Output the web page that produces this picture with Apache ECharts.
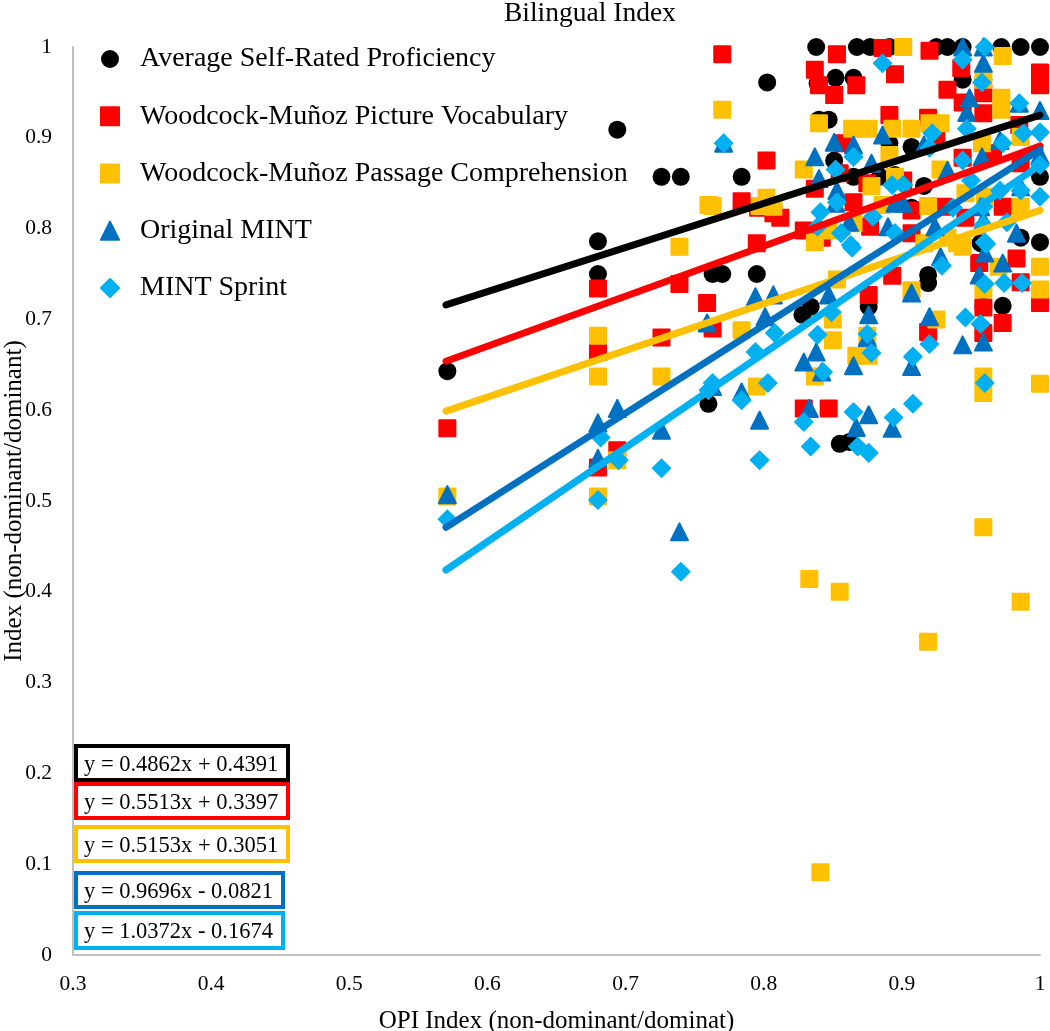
<!DOCTYPE html>
<html>
<head>
<meta charset="utf-8">
<title>Bilingual Index</title>
<script src="https://cdn.jsdelivr.net/npm/echarts@6/dist/echarts.min.js"></script>
<style>
	html, body { margin: 0; padding: 0; background: #fff; }
	#plot { width: 1050px; height: 1031px; }
</style>
</head>
<body>
<div id="plot"></div>
<script>
// values as [OPI index, index]
const selfRated = [
	[.8025,.961],[.694,.909],[.726,.857],[.74,.857],[.784,.857],[.68,.786],[.68,.75],[.763,.75],[.77,.75],[.795,.75],
	[.571,.643],[.76,.607],[.838,1],[.8675,1],[.877,1],[.891,1],[.925,1],[.933,1],[.944,1],[.972,1],[.986,1],[1,1],
	[.839,.96],[.852,.966],[.865,.966],[.84,.92],[.847,.92],[.944,.964],[.959,.964],[.851,.875],[.907,.89],[.891,.894],
	[.895,.859],[.865,.857],[.884,.857],[.916,.847],[1,.857],[.907,.823],[.957,.784],[1,.785],[.986,.79],[.919,.749],
	[.919,.74],[.828,.705],[.834,.714],[.876,.714],[.959,.714],[.973,.715],[.855,.563],[.862,.565]
];
const pictureVocabulary = [
	[.77,.992],[.802,.875],[.784,.83],[.796,.823],[.807,.817],[.795,.784],[.739,.739],[.68,.734],[.759,.718],[.763,.69],
	[.726,.68],[.68,.664],[.571,.58],[.694,.556],[.68,.537],[.853,.992],[.886,.999],[.92,.996],[1,.972],[1,.958],
	[.837,.975],[.84,.958],[.851,.947],[.867,.958],[.895,.97],[.933,.953],[.943,.977],[.959,.949],[.944,.939],[.959,.927],
	[.891,.925],[.919,.922],[.925,.9],[.857,.894],[.985,.914],[.944,.878],[.966,.883],[.986,.872],[.901,.853],[.837,.844],
	[.875,.85],[.865,.829],[.855,.861],[.973,.824],[.907,.82],[.93,.824],[.877,.802],[.946,.812],[.829,.798],[.907,.795],
	[.812,.812],[.842,.79],[.893,.748],[.876,.727],[.956,.762],[.983,.767],[.986,.741],[.959,.713],[.973,.696],[1,.718],
	[.919,.686],[.959,.685],[.829,.602],[.847,.602]
];
const passageComprehension = [
	[.77,.931],[.76,.826],[.763,.825],[.802,.834],[.797,.825],[.807,.824],[.739,.78],[.784,.688],[.68,.682],[.68,.637],
	[.726,.637],[.795,.626],[.694,.545],[.571,.505],[.68,.505],[.901,1],[.973,.99],[.959,.964],[.972,.944],[.972,.931],
	[.84,.916],[.864,.91],[.876,.91],[.893,.91],[.907,.91],[.92,.916],[.928,.916],[.958,.894],[.986,.901],[.891,.881],
	[.829,.865],[.928,.865],[.895,.857],[.878,.847],[.946,.839],[.886,.826],[.919,.825],[.986,.824],[.865,.806],[.837,.785],
	[.847,.798],[.916,.784],[.94,.784],[.96,.835],[.933,.79],[.944,.78],[1,.758],[1,.733],[.853,.744],[.907,.732],
	[.959,.733],[.97,.758],[.85,.7],[.85,.677],[.925,.7],[.875,.682],[.867,.66],[.876,.66],[.837,.637],[.959,.637],
	[.959,.619],[1,.629],[.959,.471],[.833,.414],[.855,.4],[.919,.345],[.986,.389],[.841,.091]
];
const originalMint = [
	[.794,.725],[.807,.727],[.759,.696],[.801,.703],[.694,.602],[.68,.586],[.726,.578],[.763,.626],[.784,.62],[.797,.589],
	[.68,.547],[.571,.507],[.739,.466],[.771,.894],[.944,1],[.959,1],[.959,.982],[.949,.944],[.947,.928],[.985,.938],
	[1,.93],[.886,.903],[.851,.895],[.865,.892],[.837,.879],[.916,.892],[.958,.879],[.933,.864],[.878,.872],[.84,.855],
	[.853,.842],[.971,.897],[1,.881],[.901,.828],[.895,.828],[.924,.802],[.957,.824],[.862,.807],[.89,.802],[.986,.846],
	[.959,.809],[.983,.795],[.852,.828],[.847,.727],[.96,.773],[.973,.762],[.956,.749],[.907,.729],[.876,.705],[.92,.703],
	[.959,.675],[.944,.672],[.838,.664],[.829,.653],[.865,.649],[.907,.648],[.842,.642],[.833,.602],[.876,.595],[.867,.581],
	[.893,.58],[.928,.769],[.875,.68]
];
const mintSprint = [
	[.771,.894],[.571,.48],[.682,.57],[.68,.501],[.695,.545],[.726,.536],[.763,.63],[.76,.622],[.784,.611],[.803,.63],
	[.797,.545],[.74,.422],[.794,.664],[.808,.685],[.886,.982],[.944,.986],[.96,1],[.958,.961],[.985,.938],[1,.906],
	[.988,.905],[.947,.91],[.922,.905],[.92,.889],[.973,.894],[.865,.879],[.852,.865],[.944,.875],[1,.87],[.893,.848],
	[.901,.848],[.95,.853],[.971,.842],[.986,.842],[1,.835],[.853,.829],[.841,.818],[.959,.824],[.937,.823],[.879,.813],
	[.959,.804],[.895,.795],[.976,.807],[.856,.795],[.839,.802],[.863,.782],[.96,.785],[.864,.779],[.961,.783],[.929,.759],
	[.96,.739],[.974,.74],[.987,.74],[.849,.708],[.839,.683],[.875,.684],[.878,.663],[.908,.659],[.92,.673],[.946,.702],
	[.957,.695],[.843,.642],[.96,.63],[.908,.607],[.829,.587],[.865,.598],[.894,.592],[.834,.56],[.868,.56],[.876,.553]
];

// trend line end points
const selfRatedTrend = [[.57,.716],[1,.925]];
const vocabularyTrend = [[.57,.654],[1,.891]];
const passageTrend = [[.57,.599],[1,.82]];
const originalTrend = [[.57,.471],[1,.887]];
const sprintTrend = [[.57,.424],[1,.87]];

const seriesNames = [
	'Average Self-Rated Proficiency',
	'Woodcock-Muñoz Picture Vocabulary',
	'Woodcock-Muñoz Passage Comprehension',
	'Original MINT',
	'MINT Sprint'
];
const equations = [
	'y = 0.4862x + 0.4391',
	'y = 0.5513x + 0.3397',
	'y = 0.5153x + 0.3051',
	'y = 0.9696x - 0.0821',
	'y = 1.0372x - 0.1674'
];

const serifFont = '"Liberation Serif", "Times New Roman", serif';
const colors = ['#000000', '#FF0000', '#FFC000', '#0070C0', '#00B0F0'];
const symbols = ['circle', 'rect', 'rect', 'triangle', 'diamond'];
const symbolSizes = [18, 16, 16, 17, 18];
const symbolBorders = [0, 2, 2, 2, 1.5];
const pointSets = [selfRated, pictureVocabulary, passageComprehension, originalMint, mintSprint];
const trendSets = [selfRatedTrend, vocabularyTrend, passageTrend, originalTrend, sprintTrend];
const boxes = [
	{ x: 76, y: 746, width: 212, height: 34 },
	{ x: 76, y: 784, width: 212, height: 34 },
	{ x: 76, y: 827, width: 212, height: 34 },
	{ x: 76, y: 873, width: 207, height: 34 },
	{ x: 76, y: 913, width: 207, height: 35 }
];

function scatterSeries(index) {
	return {
		name: seriesNames[index],
		type: 'scatter',
		symbol: symbols[index],
		symbolSize: symbolSizes[index],
		clip: false,
		z: 2,
		itemStyle: {
			color: colors[index],
			opacity: 1,
			borderColor: colors[index],
			borderWidth: symbolBorders[index],
			borderJoin: 'round'
		},
		data: pointSets[index]
	};
}

function trendSeries(index) {
	return {
		name: seriesNames[index] + ' trend',
		type: 'line',
		showSymbol: false,
		symbol: 'none',
		clip: false,
		z: 3,
		silent: true,
		lineStyle: { color: colors[index], width: 7, cap: 'round' },
		data: trendSets[index]
	};
}

function equationBoxes() {
	const items = [];
	equations.forEach((text, index) => {
		items.push({
			type: 'rect',
			shape: boxes[index],
			style: { fill: '#fff', stroke: colors[index], lineWidth: 4 },
			z: 10
		});
		items.push({
			type: 'text',
			x: boxes[index].x + 8,
			y: boxes[index].y + 8,
			style: { text: text, font: '22.5px ' + serifFont, fill: '#000' },
			z: 11
		});
	});
	return items;
}

function plot() {
	const box = document.getElementById('plot');
	const chart = echarts.init(box);
	const axisLine = { show: true, onZero: false, lineStyle: { color: '#BFBFBF', width: 2 } };
	const axisLabel = { color: '#000', fontFamily: serifFont, fontSize: 21.5 };
	const axisName = { color: '#000', fontFamily: serifFont, fontSize: 25 };
	const scatter = [0, 1, 2, 3, 4].map(scatterSeries);
	const trends = [0, 1, 2, 3, 4].map(trendSeries);
	chart.setOption({
		animation: false,
		backgroundColor: '#fff',
		title: {
			text: 'Bilingual Index',
			left: 499,
			top: -5,
			textStyle: { color: '#000', fontFamily: serifFont, fontSize: 27.5, fontWeight: 'normal' }
		},
		legend: {
			orient: 'vertical',
			left: 95,
			top: 40,
			itemGap: 29.25,
			itemWidth: 18,
			itemHeight: 18,
			data: seriesNames,
			selectedMode: false,
			textStyle: { color: '#000', fontFamily: serifFont, fontSize: 28, padding: [10, 0, 0, 16] }
		},
		grid: { left: 73, right: 10, top: 47, bottom: 76, outerBoundsMode: 'none' },
		xAxis: {
			type: 'value',
			min: 0.3,
			max: 1,
			interval: 0.1,
			name: 'OPI Index (non-dominant/dominat)',
			nameLocation: 'middle',
			nameMoveOverlap: false,
			nameGap: 54,
			nameTextStyle: axisName,
			axisLine: axisLine,
			axisTick: { show: false },
			axisLabel: Object.assign({ margin: 18, formatter: (v) => String(+v.toFixed(1)) }, axisLabel),
			splitLine: { show: false }
		},
		yAxis: {
			type: 'value',
			min: 0,
			max: 1,
			interval: 0.1,
			name: 'Index (non-dominant/dominant)',
			nameLocation: 'middle',
			nameMoveOverlap: false,
			nameGap: 46,
			nameTextStyle: axisName,
			axisLine: axisLine,
			axisTick: { show: false },
			axisLabel: Object.assign({ margin: 21, formatter: (v) => String(+v.toFixed(1)) }, axisLabel),
			splitLine: { show: false }
		},
		graphic: equationBoxes(),
		series: scatter.concat(trends)
	});
}

window.addEventListener('load', () => {
	plot();
});
</script>
</body>
</html>
